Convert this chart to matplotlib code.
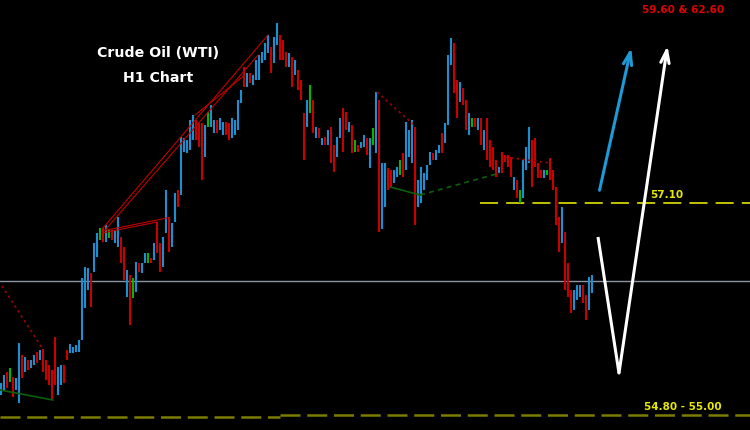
import numpy as np
import matplotlib
matplotlib.use("Agg")
import matplotlib.pyplot as plt

# ---- data (H1 bars, price) ----
highs = [55.30,55.38,55.41,55.45,55.36,55.35,55.70,55.58,55.56,55.53,
         55.53,55.58,55.61,55.63,55.64,55.53,55.48,55.43,55.76,55.46,
         55.48,55.48,55.63,55.69,55.66,55.68,55.73,56.35,56.46,56.45,
         56.40,56.70,56.80,56.85,56.85,56.88,56.83,56.83,56.83,56.96,
         56.76,56.66,56.43,56.38,56.35,56.51,56.50,56.50,56.60,56.60,
         56.55,56.70,56.91,56.70,56.76,57.23,56.96,56.90,57.20,57.23,
         57.76,57.75,57.73,57.93,57.98,57.93,57.90,57.90,57.88,58.01,
         58.08,57.93,57.93,57.95,57.91,57.91,57.90,57.95,57.93,58.13,
         58.23,58.46,58.40,58.40,58.38,58.53,58.58,58.61,58.70,58.78,
         58.66,58.76,58.90,58.78,58.73,58.61,58.60,58.56,58.53,58.43,
         58.33,58.00,58.13,58.28,58.13,57.86,57.85,57.75,57.76,57.83,
         57.86,57.68,57.76,57.95,58.05,58.01,57.91,57.88,57.73,57.68,
         57.71,57.78,57.75,57.75,57.85,58.21,58.13,57.50,57.50,57.45,
         57.43,57.43,57.46,57.53,57.60,57.91,57.83,57.93,57.86,57.33,
         57.46,57.40,57.48,57.61,57.60,57.63,57.68,57.80,57.90,58.58,
         58.75,58.70,58.33,58.31,58.25,58.13,58.00,57.95,57.95,57.95,
         57.95,57.83,57.95,57.73,57.66,57.53,57.46,57.61,57.58,57.58,
         57.56,57.36,57.33,57.23,57.53,57.66,57.86,57.73,57.75,57.50,
         57.43,57.43,57.43,57.55,57.43,57.26,56.96,57.06,56.81,56.50,
         56.23,56.23,56.28,56.28,56.28,56.18,56.36,56.38]

lows = [55.18,55.23,55.25,55.31,55.16,55.23,55.10,55.35,55.41,55.43,
        55.45,55.48,55.50,55.53,55.41,55.33,55.28,55.13,55.28,55.18,
        55.28,55.30,55.53,55.60,55.60,55.61,55.61,55.73,56.05,56.23,
        56.06,56.41,56.56,56.73,56.71,56.71,56.75,56.73,56.70,56.66,
        56.50,56.33,56.16,55.88,56.15,56.21,56.41,56.40,56.50,56.50,
        56.50,56.53,56.60,56.41,56.46,56.80,56.61,56.66,56.91,57.06,
        57.18,57.61,57.60,57.63,57.73,57.73,57.66,57.33,57.56,57.86,
        57.86,57.80,57.80,57.83,57.78,57.78,57.73,57.75,57.78,57.83,
        58.10,58.26,58.26,58.30,58.28,58.33,58.33,58.50,58.53,58.60,
        58.40,58.50,58.68,58.53,58.53,58.46,58.46,58.26,58.38,58.23,
        58.13,57.53,57.86,58.00,57.80,57.75,57.75,57.68,57.68,57.68,
        57.50,57.41,57.56,57.75,57.61,57.83,57.81,57.60,57.61,57.61,
        57.65,57.66,57.58,57.45,57.68,57.60,56.81,56.84,57.06,57.23,
        57.25,57.30,57.36,57.38,57.36,57.43,57.56,57.50,56.88,57.06,
        57.10,57.23,57.33,57.48,57.53,57.53,57.60,57.60,57.70,57.88,
        58.48,58.20,57.95,58.11,58.08,57.83,57.78,57.86,57.86,57.83,
        57.68,57.63,57.53,57.46,57.43,57.36,57.40,57.40,57.51,57.46,
        57.36,57.23,57.15,57.10,57.15,57.43,57.50,57.26,57.46,57.35,
        57.35,57.35,57.38,57.33,57.23,56.88,56.61,56.70,56.23,56.16,
        56.00,56.03,56.13,56.16,56.10,55.93,56.03,56.20]

# u = bullish, d = bearish, g = neutral bar
directions = ("uudgduudud" "uududddddu" "udduuuuuuu" "duugdugduu" "ddudguduug"
              "dudduuduud" "uuuuudddug" "uuduudduuu" "ududuuuuuu" "duudddudud"
              "ddugdududu" "dduuddudgd" "uuduguduud" "duugduuudu" "uuuuduuduu"
              "udduddugdu" "dudddduddd" "dudguuuddd" "dugddddudd" "duuudduu")

# levels
resistance = 57.10
support_left = 54.96
support_right = 54.98
pivot_line = 56.32

# trend lines: (bar0, price0, bar1, price1)
solid_red_lines = [(34.0, 56.85, 89.0, 58.78),
                   (34.7, 56.83, 85.7, 58.58),
                   (64.7, 57.98, 81.3, 58.38),
                   (33.7, 56.82, 55.3, 56.95),
                   (33.7, 56.80, 52.0, 56.91)]
dotted_red_lines = [(0.3, 56.27, 13.7, 55.65),
                    (125.3, 58.21, 137.3, 57.89),
                    (168.0, 57.56, 183.0, 57.50)]
solid_green_lines = [(-0.3, 55.23, 17.3, 55.13),
                     (129.7, 57.26, 139.7, 57.18)]
dashed_green_lines = [(139.7, 57.18, 166.3, 57.40)]

blue_arrow = [(199.3, 57.20), (210.3, 58.68)]
white_path = [(199.0, 56.76), (206.0, 55.40), (222.3, 58.70)]

# ---- figure ----
fig = plt.figure(figsize=(7.5, 4.3), dpi=100, facecolor="black")
ax = fig.add_axes([0, 0, 1, 1])
ax.set_facecolor("black")
ax.set_xlim(-1/3, 249.67)
ax.set_ylim(54.83, 59.13)
ax.axis("off")

colors = {"u": "#1d8fd0", "d": "#c80000", "g": "#00b800"}
idx = np.arange(len(highs))
for c in "udg":
    sel = [i for i in idx if directions[i] == c]
    ax.vlines(sel, [lows[i] for i in sel], [highs[i] for i in sel],
              colors=colors[c], linewidth=1.5, zorder=3)

# horizontal lines
ax.axhline(pivot_line, color="#8a96a6", lw=1.0, zorder=2)
ax.plot([159.7, 249.7], [resistance, resistance], color="#d2d200", lw=1.3,
        dashes=(10, 4.5), zorder=2)
ax.plot([-0.3, 93.0], [support_left, support_left], color="#7c7c00", lw=1.8,
        dashes=(8, 2.7), zorder=2)
ax.plot([93.0, 249.7], [support_right, support_right], color="#7c7c00", lw=1.8,
        dashes=(8, 2.7), zorder=2)

for x0, y0, x1, y1 in solid_red_lines:
    ax.plot([x0, x1], [y0, y1], color="#c00000", lw=0.8, zorder=4)
for x0, y0, x1, y1 in dotted_red_lines:
    ax.plot([x0, x1], [y0, y1], color="#a00000", lw=1.2, dashes=(1.5, 2), zorder=4)
for x0, y0, x1, y1 in solid_green_lines:
    ax.plot([x0, x1], [y0, y1], color="#0a600a", lw=1.2, zorder=4)
for x0, y0, x1, y1 in dashed_green_lines:
    ax.plot([x0, x1], [y0, y1], color="#0a600a", lw=1.2, dashes=(3, 2.5), zorder=4)

# arrows
ax.annotate("", xy=blue_arrow[1], xytext=blue_arrow[0],
            arrowprops=dict(arrowstyle="->,head_length=0.9,head_width=0.3",
                            color="#1e9ad6", lw=2.2), zorder=5)
wx = [p[0] for p in white_path]
wy = [p[1] for p in white_path]
ax.plot(wx[:2], wy[:2], color="white", lw=2.2, solid_capstyle="butt", zorder=5)
ax.annotate("", xy=white_path[2], xytext=white_path[1],
            arrowprops=dict(arrowstyle="->,head_length=0.9,head_width=0.3",
                            color="white", lw=2.2, shrinkA=0), zorder=5)

# texts
ax.text(0.211, 0.877, "Crude Oil (WTI)", transform=ax.transAxes, color="white",
        fontsize=10.2, fontweight="bold", ha="center", va="center")
ax.text(0.211, 0.818, "H1 Chart", transform=ax.transAxes, color="white",
        fontsize=10.2, fontweight="bold", ha="center", va="center")
ax.text(0.911, 0.977, "59.60 & 62.60", transform=ax.transAxes, color="#e00000",
        fontsize=7.5, fontweight="bold", ha="center", va="center")
ax.text(0.889, 0.547, "57.10", transform=ax.transAxes, color="#e8e800",
        fontsize=7.5, fontweight="bold", ha="center", va="center")
ax.text(0.910, 0.053, "54.80 - 55.00", transform=ax.transAxes, color="#e8e800",
        fontsize=7.5, fontweight="bold", ha="center", va="center")

fig.savefig("out.png", dpi=100, facecolor="black")
